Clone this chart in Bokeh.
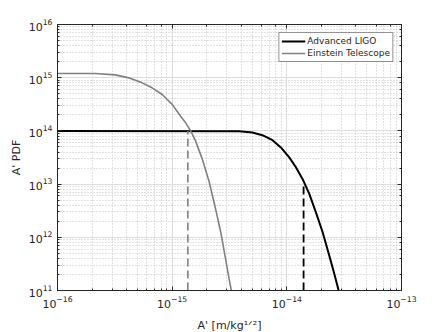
from bokeh.plotting import figure
from bokeh.models import LogAxis, LogTicker, Legend, LegendItem
from bokeh.embed import file_html
from bokeh.resources import INLINE

# Advanced LIGO PDF
aligo_x = [1e-16, 3.83e-15, 5.01e-15, 6.12e-15, 7.50e-15, 8.87e-15, 1.05e-14, 1.20e-14,
           1.37e-14, 1.57e-14, 1.79e-14, 2.05e-14, 2.34e-14, 2.59e-14, 2.83e-14]
aligo_y = [1.0e14, 9.86e13, 9.31e13, 8.30e13, 6.70e13, 4.88e13, 3.18e13, 2.07e13,
           1.25e13, 6.55e12, 2.97e12, 1.26e12, 4.61e11, 2.09e11, 1.0e11]
# Einstein Telescope PDF
et_x = [1e-16, 2.13e-16, 3.19e-16, 4.18e-16, 5.47e-16, 6.68e-16, 8.18e-16, 1.0e-15,
        1.18e-15, 1.31e-15, 1.45e-15, 1.60e-15, 1.83e-15, 2.09e-15, 2.39e-15, 2.65e-15,
        2.92e-15, 3.13e-15, 3.28e-15]
et_y = [1.2e15, 1.2e15, 1.13e15, 9.93e14, 8.0e14, 6.46e14, 4.84e14, 3.15e14,
        1.91e14, 1.43e14, 1.0e14, 6.5e13, 2.95e13, 1.16e13, 3.44e12, 1.26e12,
        3.99e11, 1.69e11, 1.0e11]
# threshold markers
aligo_mark_x = [1.40e-14, 1.40e-14]
aligo_mark_y = [1e11, 1.0e13]
et_mark_x = [1.37e-15, 1.37e-15]
et_mark_y = [1e11, 1.0e14]

series_names = ["Advanced LIGO", "Einstein Telescope"]
x_label = "A' [m/kg\u00b9\u141f\u00b2]"
y_label = "A' PDF"

FONT = "DejaVu Sans"
DARK = "#262626"
GRAY = "#808080"

p = figure(x_axis_type="log", y_axis_type="log",
           x_range=(1e-16, 1e-13), y_range=(1e11, 1e16),
           frame_width=344, frame_height=266,
           min_border_left=57, min_border_top=24, min_border_right=30, min_border_bottom=42,
           output_backend="svg", toolbar_location=None,
           background_fill_color="white", border_fill_color="white")

p.outline_line_color = DARK

for ax in [p.xaxis[0], p.yaxis[0]]:
    ax.major_label_text_font = FONT
    ax.major_label_text_font_size = "11px"
    ax.major_label_text_color = DARK
    ax.axis_line_color = DARK
    ax.major_tick_line_color = DARK
    ax.minor_tick_line_color = DARK
    ax.major_tick_in = 4
    ax.major_tick_out = 0
    ax.minor_tick_in = 2
    ax.minor_tick_out = 0
    ax.major_label_standoff = 5
    ax.axis_label_text_font = FONT
    ax.axis_label_text_font_size = "11px"
    ax.axis_label_text_font_style = "normal"
    ax.axis_label_text_color = DARK

p.xaxis[0].axis_label = x_label
p.xaxis[0].axis_label_standoff = 8
p.yaxis[0].axis_label = y_label
p.yaxis[0].axis_label_standoff = 3

for loc in ["above", "right"]:
    ax = LogAxis(ticker=LogTicker())
    ax.major_label_text_font_size = "1px"
    ax.major_label_text_alpha = 0
    ax.axis_line_color = DARK
    ax.major_tick_line_color = DARK
    ax.minor_tick_line_color = DARK
    ax.major_tick_in = 4
    ax.major_tick_out = 0
    ax.minor_tick_in = 2
    ax.minor_tick_out = 0
    ax.major_label_standoff = 0
    p.add_layout(ax, loc)

for g in [p.xgrid[0], p.ygrid[0]]:
    g.grid_line_color = "#dcdcdc"
    g.grid_line_width = 1
    g.minor_grid_line_color = "#c4c4c4"
    g.minor_grid_line_dash = "1 2"
    g.minor_grid_line_width = 1

r1 = p.line(aligo_x, aligo_y, line_color="black", line_width=2, line_join="round")
r2 = p.line(et_x, et_y, line_color=GRAY, line_width=1.6, line_join="round")
p.line(aligo_mark_x, aligo_mark_y, line_color="black", line_width=1.8, line_dash="8 4")
p.line(et_mark_x, et_mark_y, line_color=GRAY, line_width=1.6, line_dash="8 4")

legend = Legend(items=[LegendItem(label=series_names[0], renderers=[r1]),
                       LegendItem(label=series_names[1], renderers=[r2])],
                location="top_right")
legend.label_text_font = FONT
legend.label_text_font_size = "9px"
legend.label_text_color = DARK
legend.glyph_width = 24
legend.glyph_height = 12
legend.label_height = 12
legend.label_standoff = 2
legend.spacing = 0
legend.padding = 2
legend.margin = 8
legend.border_line_color = DARK
legend.border_line_width = 1
legend.background_fill_alpha = 1
p.add_layout(legend)

open("out.html", "w").write(file_html(p, INLINE))
